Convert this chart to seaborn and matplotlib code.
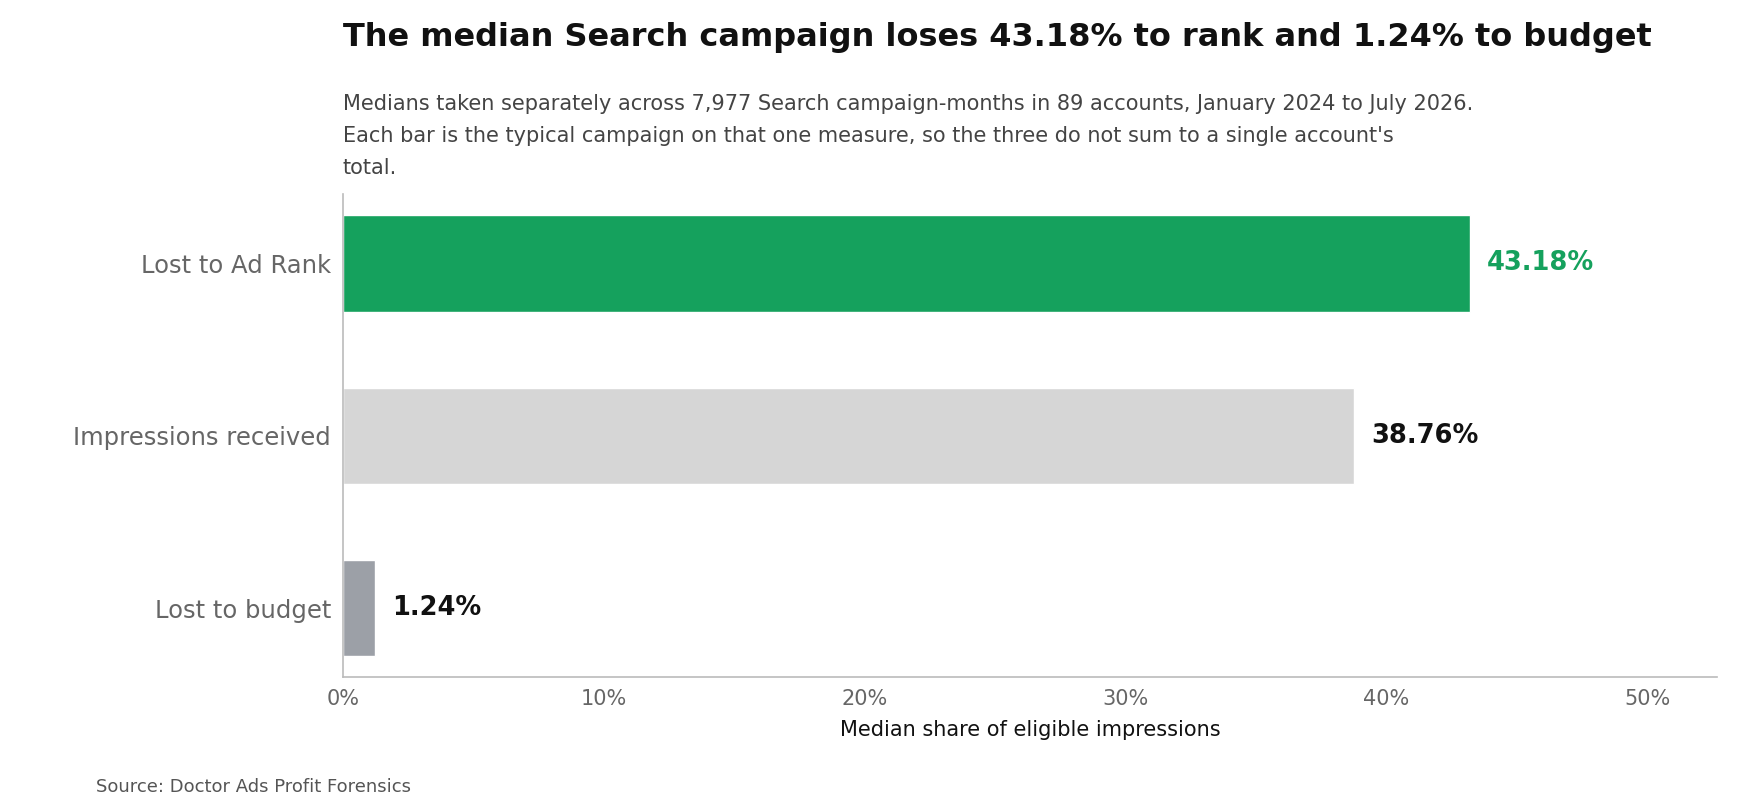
import matplotlib
matplotlib.use("Agg")
import matplotlib.pyplot as plt
import seaborn as sns
import pandas as pd
from matplotlib.ticker import FuncFormatter

# Données
categories = ["Lost to Ad Rank", "Impressions received", "Lost to budget"]
values = [43.18, 38.76, 1.24]
bar_colors = ["#15a15d", "#d6d6d6", "#9ca0a7"]
label_colors = ["#15a15d", "#111111", "#111111"]
x_ticks = [0, 10, 20, 30, 40, 50]

title = "The median Search campaign loses 43.18% to rank and 1.24% to budget"
subtitle_lines = [
    "Medians taken separately across 7,977 Search campaign-months in 89 accounts, January 2024 to July 2026.",
    "Each bar is the typical campaign on that one measure, so the three do not sum to a single account's",
    "total.",
]
source = "Source: Doctor Ads Profit Forensics"

df = pd.DataFrame({"Categorie": categories, "Valeur": values})

sns.set_style("white")
plt.rcParams["font.family"] = ["DejaVu Sans"]

fig = plt.figure(figsize=(17.4, 8.1), dpi=100)
ax = fig.add_axes([0.197, 0.164, 0.790, 0.596])

sns.barplot(data=df, x="Valeur", y="Categorie", hue="Categorie",
            palette=dict(zip(categories, bar_colors)), order=categories,
            width=0.56, legend=False, saturation=1, ax=ax)

# Étiquettes de valeur
for i, (v, c) in enumerate(zip(values, label_colors)):
    ax.annotate(f"{v:.2f}%", xy=(v, i), xytext=(12.5, 0), textcoords="offset points",
                va="center", ha="left", fontsize=18.5, fontweight="bold", color=c)

ax.set_xlim(0, max(values) * 1.22)
ax.set_ylim(2.4, -0.4)
ax.set_xticks(x_ticks)
ax.xaxis.set_major_formatter(FuncFormatter(lambda x, _: f"{x:.0f}%"))
ax.set_xlabel("Median share of eligible impressions", fontsize=15, color="#111111", labelpad=8)
ax.set_ylabel("")

ax.tick_params(axis="x", labelsize=15, colors="#666666", length=5, width=1, color="#999999")
ax.tick_params(axis="y", labelsize=17.5, colors="#666666", length=5, width=1, color="#999999")
for t in ax.get_xticklabels() + ax.get_yticklabels():
    t.set_color("#666666")

sns.despine(ax=ax)
for s in ["left", "bottom"]:
    ax.spines[s].set_color("#bbbbbb")
    ax.spines[s].set_linewidth(1.2)

# Titre, sous-titre et source
fig.text(0.197, 0.954, title, fontsize=23, fontweight="bold", color="#111111",
         ha="left", va="center")
for k, line in enumerate(subtitle_lines):
    fig.text(0.197, 1 - (103.5 + 32.5 * k) / 810, line, fontsize=15, color="#444444",
             ha="left", va="center")
fig.text(0.055, 0.028, source, fontsize=13, color="#555555", ha="left", va="center")

fig.savefig("out.png", dpi=100)
